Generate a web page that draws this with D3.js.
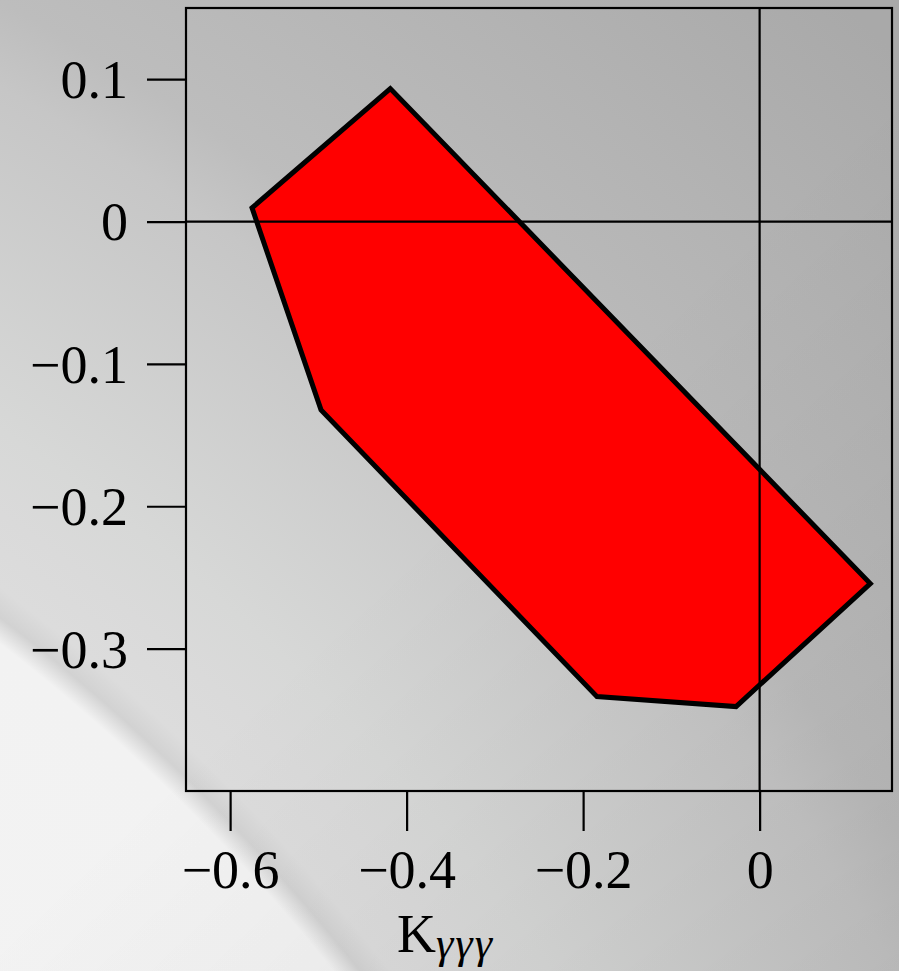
<!DOCTYPE html>
<html>
<head>
<script src="https://d3js.org/d3.v7.min.js"></script>
<style>
  body { margin: 0; background: #ccc; }
  svg { display: block; }
  .tick text { font-family: "Liberation Serif", "DejaVu Serif", serif; font-size: 54px; fill: #000; }
</style>
</head>
<body>
<div class="chart"></div>
<script>
  // region outline (K_yyy on x, second coupling on y)
  const regionX = [-0.4185, -0.5752, -0.497, -0.1843, -0.0267, 0.1254];
  const regionY = [0.0934, 0.0096, -0.1323, -0.3337, -0.3407, -0.2543];
  const xTicks = [-0.6, -0.4, -0.2, 0];
  const yTicks = [0.1, 0, -0.1, -0.2, -0.3];
  const xDomain = [-0.65, 0.15];
  const yDomain = [-0.4, 0.15];

  const W = 899, H = 971;
  const plot = { left: 186, right: 892, top: 8, bottom: 791 };

  const svg = d3.select(".chart").append("svg")
    .attr("width", W)
    .attr("height", H);

  // grey photo-like backdrop, bright arc in the lower left
  const defs = svg.append("defs");
  const grad = defs.append("radialGradient")
    .attr("id", "bg")
    .attr("gradientUnits", "userSpaceOnUse")
    .attr("cx", -1200).attr("cy", 2200).attr("r", 3000);
  [[0, "#f8f8f8"], [0.655, "#f2f2f2"], [0.662, "#d2d2d2"], [0.67, "#dcdcdc"],
   [0.69, "#dadada"], [0.713, "#d7d8d7"], [0.81, "#c6c6c6"], [0.835, "#bdbdbd"],
   [0.92, "#b3b3b3"], [1, "#a9a9a9"]]
    .forEach(s => grad.append("stop").attr("offset", s[0]).attr("stop-color", s[1]));

  const shade = defs.append("linearGradient")
    .attr("id", "shade")
    .attr("gradientUnits", "userSpaceOnUse")
    .attr("x1", 450).attr("y1", 500).attr("x2", 899).attr("y2", 971);
  shade.append("stop").attr("offset", 0).attr("stop-color", "#000").attr("stop-opacity", 0);
  shade.append("stop").attr("offset", 1).attr("stop-color", "#000").attr("stop-opacity", 0.07);

  svg.append("rect")
    .attr("width", W).attr("height", H)
    .attr("fill", "url(#bg)");
  svg.append("rect")
    .attr("width", W).attr("height", H)
    .attr("fill", "url(#shade)");

  const x = d3.scaleLinear().domain(xDomain).range([plot.left, plot.right]);
  const y = d3.scaleLinear().domain(yDomain).range([plot.bottom, plot.top]);

  const pts = regionX.map((d, i) => [x(d), y(regionY[i])]);

  svg.append("path")
    .attr("d", d3.line()(pts) + "Z")
    .attr("fill", "#ff0000")
    .attr("stroke", "#000")
    .attr("stroke-width", 5)
    .attr("stroke-linejoin", "miter");

  const fmt = d3.format("~g");

  const xAxis = d3.axisBottom(x).tickValues(xTicks).tickSize(40).tickPadding(16).tickFormat(fmt);
  const yAxis = d3.axisLeft(y).tickValues(yTicks).tickSize(39).tickPadding(19).tickFormat(fmt);

  const gx = svg.append("g")
    .attr("transform", `translate(0,${plot.bottom})`)
    .call(xAxis);
  gx.select(".domain").remove();
  gx.selectAll(".tick line").attr("stroke", "#000").attr("stroke-width", 2.2);
  gx.selectAll(".tick text").attr("dy", "0.76em");

  const gy = svg.append("g")
    .attr("transform", `translate(${plot.left},0)`)
    .call(yAxis);
  gy.select(".domain").remove();
  gy.selectAll(".tick line").attr("stroke", "#000").attr("stroke-width", 2.2);
  gy.selectAll(".tick text").attr("dy", "0.34em");

  // zero lines over the region
  svg.append("line")
    .attr("x1", x(0)).attr("x2", x(0))
    .attr("y1", plot.top).attr("y2", plot.bottom)
    .attr("stroke", "#000").attr("stroke-width", 2.2);
  svg.append("line")
    .attr("x1", plot.left).attr("x2", plot.right)
    .attr("y1", y(0)).attr("y2", y(0))
    .attr("stroke", "#000").attr("stroke-width", 2.2);

  // frame
  svg.append("rect")
    .attr("x", plot.left).attr("y", plot.top)
    .attr("width", plot.right - plot.left)
    .attr("height", plot.bottom - plot.top)
    .attr("fill", "none")
    .attr("stroke", "#000")
    .attr("stroke-width", 2.2);

  // axis title
  const title = svg.append("text")
    .attr("x", 397).attr("y", 952)
    .attr("font-family", "'Liberation Serif', 'DejaVu Serif', serif")
    .attr("font-size", 54)
    .attr("fill", "#000");
  title.append("tspan").text("K");
  title.append("tspan")
    .attr("font-size", 44)
    .attr("font-style", "italic")
    .attr("letter-spacing", 2)
    .attr("dy", 6)
    .text("γγγ");
</script>
</body>
</html>
